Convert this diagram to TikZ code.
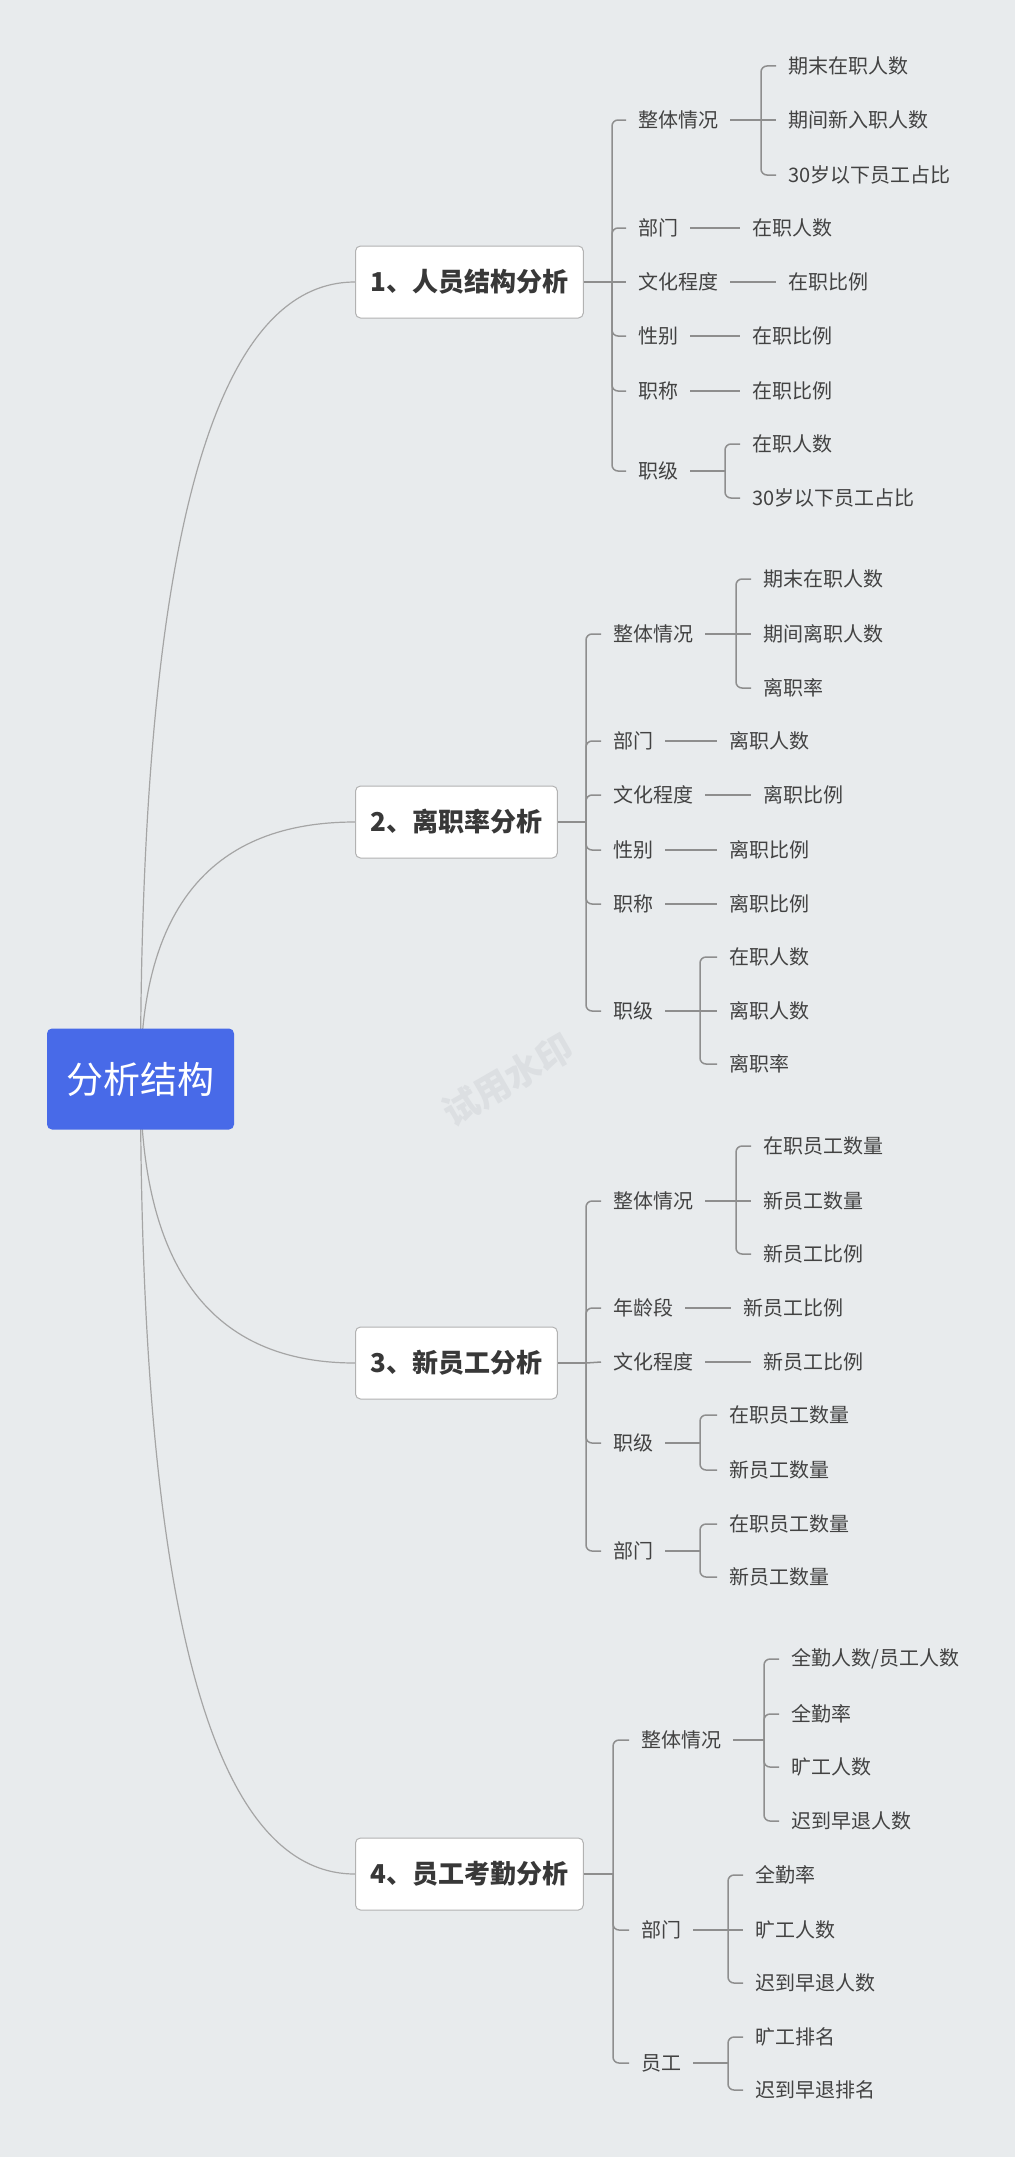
\documentclass[tikz,border=0pt]{standalone}
\usepackage{fontspec}
\setmainfont{Noto Sans CJK SC}
\usepackage{tikz}
\usetikzlibrary{calc,backgrounds}

\definecolor{bgcol}{RGB}{232,235,237}
\definecolor{rootblue}{RGB}{72,106,232}
\definecolor{boxline}{RGB}{178,178,178}
\definecolor{linecol}{RGB}{142,142,142}
\definecolor{curvecol}{RGB}{165,165,165}
\definecolor{txtcol}{RGB}{66,66,66}
\definecolor{wmcol}{RGB}{220,223,226}

\begin{document}
\begin{tikzpicture}[x=1pt,y=-1pt]

  %Styles for picture
  \tikzset
  {
  root/.style={rectangle, rounded corners=5pt, fill=rootblue, text=white, minimum width=187pt, minimum height=101pt, inner sep=0pt, font=\fontsize{37}{44}\selectfont},
  topic/.style={rectangle, rounded corners=5pt, draw=boxline, line width=1pt, fill=white, text=txtcol!85!black, anchor=west, minimum height=72pt, inner xsep=15pt, font=\fontsize{26}{31}\selectfont\bfseries},
  item/.style={anchor=west, inner xsep=12pt, inner ysep=2pt, text=txtcol, font=\fontsize{20}{24}\selectfont},
  branch/.style={draw=linecol, line width=1.5pt, rounded corners=6pt},
  curve/.style={draw=curvecol, line width=1.2pt},
  watermark/.style={text=wmcol, rotate=30, font=\fontsize{36}{43}\selectfont\bfseries},
  }

  \useasboundingbox (0,0) rectangle (1015,2157);

  % Root
  \node[root] (root) at (140.5,1079) {分析结构};
  \node[watermark] (wm) at (508,1080) {试用水印};

  % Section 1
  \node[topic] (t1) at (355,282) {1、人员结构分析};
  \coordinate (j1) at (612,282);
  \node[item] (t1a) at (626,120) {整体情况};
  \node[item] (t1b) at (626,228) {部门};
  \node[item] (t1c) at (626,282) {文化程度};
  \node[item] (t1d) at (626,336) {性别};
  \node[item] (t1e) at (626,391) {职称};
  \node[item] (t1f) at (626,471) {职级};
  \coordinate (j1a) at (761,120);
  \node[item] (t1a1) at (776,66) {期末在职人数};
  \node[item] (t1a2) at (776,120) {期间新入职人数};
  \node[item] (t1a3) at (776,175) {30岁以下员工占比};
  \node[item] (t1b1) at (740,228) {在职人数};
  \node[item] (t1c1) at (776,282) {在职比例};
  \node[item] (t1d1) at (740,336) {在职比例};
  \node[item] (t1e1) at (740,391) {在职比例};
  \coordinate (j1f) at (725,471);
  \node[item] (t1f1) at (740,444) {在职人数};
  \node[item] (t1f2) at (740,498) {30岁以下员工占比};

  % Section 2
  \node[topic] (t2) at (355,822) {2、离职率分析};
  \coordinate (j2) at (586,822);
  \node[item] (t2a) at (601,634) {整体情况};
  \node[item] (t2b) at (601,741) {部门};
  \node[item] (t2c) at (601,795) {文化程度};
  \node[item] (t2d) at (601,850) {性别};
  \node[item] (t2e) at (601,904) {职称};
  \node[item] (t2f) at (601,1011) {职级};
  \coordinate (j2a) at (736,634);
  \node[item] (t2a1) at (751,579) {期末在职人数};
  \node[item] (t2a2) at (751,634) {期间离职人数};
  \node[item] (t2a3) at (751,688) {离职率};
  \node[item] (t2b1) at (717,741) {离职人数};
  \node[item] (t2c1) at (751,795) {离职比例};
  \node[item] (t2d1) at (717,850) {离职比例};
  \node[item] (t2e1) at (717,904) {离职比例};
  \coordinate (j2f) at (700,1011);
  \node[item] (t2f1) at (717,957) {在职人数};
  \node[item] (t2f2) at (717,1011) {离职人数};
  \node[item] (t2f3) at (717,1064) {离职率};

  % Section 3
  \node[topic] (t3) at (355,1363) {3、新员工分析};
  \coordinate (j3) at (586,1363);
  \node[item] (t3a) at (601,1201) {整体情况};
  \node[item] (t3b) at (601,1308) {年龄段};
  \node[item] (t3c) at (601,1362) {文化程度};
  \node[item] (t3d) at (601,1443) {职级};
  \node[item] (t3e) at (601,1551) {部门};
  \coordinate (j3a) at (736,1201);
  \node[item] (t3a1) at (751,1146) {在职员工数量};
  \node[item] (t3a2) at (751,1201) {新员工数量};
  \node[item] (t3a3) at (751,1254) {新员工比例};
  \node[item] (t3b1) at (731,1308) {新员工比例};
  \node[item] (t3c1) at (751,1362) {新员工比例};
  \coordinate (j3d) at (700,1443);
  \node[item] (t3d1) at (717,1415) {在职员工数量};
  \node[item] (t3d2) at (717,1470) {新员工数量};
  \coordinate (j3e) at (700,1551);
  \node[item] (t3e1) at (717,1524) {在职员工数量};
  \node[item] (t3e2) at (717,1577) {新员工数量};

  % Section 4
  \node[topic] (t4) at (355,1874) {4、员工考勤分析};
  \coordinate (j4) at (613,1874);
  \node[item] (t4a) at (629,1740) {整体情况};
  \node[item] (t4b) at (629,1930) {部门};
  \node[item] (t4c) at (629,2063) {员工};
  \coordinate (j4a) at (764,1740);
  \node[item] (t4a1) at (779,1659) {全勤人数/员工人数};
  \node[item] (t4a2) at (779,1714) {全勤率};
  \node[item] (t4a3) at (779,1767) {旷工人数};
  \node[item] (t4a4) at (779,1821) {迟到早退人数};
  \coordinate (j4b) at (728,1930);
  \node[item] (t4b1) at (743,1875) {全勤率};
  \node[item] (t4b2) at (743,1930) {旷工人数};
  \node[item] (t4b3) at (743,1983) {迟到早退人数};
  \coordinate (j4c) at (728,2063);
  \node[item] (t4c1) at (743,2037) {旷工排名};
  \node[item] (t4c2) at (743,2090) {迟到早退排名};

  % Curves from root
  \begin{pgfonlayer}{background}
  \fill[bgcol] (0,0) rectangle (1015,2157);
  \foreach \t in {t1,t2,t3,t4}
    \draw[curve] (root.center) .. controls ($(root.center)!0.667!(root.center |- \t.west)$) and ($(\t.west)!0.667!(root.center |- \t.west)$) .. (\t.west);
  \end{pgfonlayer}

  % Edges, section 1
  \draw[branch] (t1.east) -- (j1);
  \draw[branch] (j1) |- (t1a.west);
  \draw[branch] (j1) |- (t1b.west);
  \draw[branch] (j1) -- (t1c.west);
  \draw[branch] (j1) |- (t1d.west);
  \draw[branch] (j1) |- (t1e.west);
  \draw[branch] (j1) |- (t1f.west);
  \draw[branch] (t1a.east) -- (j1a);
  \draw[branch] (j1a) |- (t1a1.west);
  \draw[branch] (j1a) -- (t1a2.west);
  \draw[branch] (j1a) |- (t1a3.west);
  \draw[branch] (t1b.east) -- (t1b1.west);
  \draw[branch] (t1c.east) -- (t1c1.west);
  \draw[branch] (t1d.east) -- (t1d1.west);
  \draw[branch] (t1e.east) -- (t1e1.west);
  \draw[branch] (t1f.east) -- (j1f);
  \draw[branch] (j1f) |- (t1f1.west);
  \draw[branch] (j1f) |- (t1f2.west);

  % Edges, section 2
  \draw[branch] (t2.east) -- (j2);
  \draw[branch] (j2) |- (t2a.west);
  \draw[branch] (j2) |- (t2b.west);
  \draw[branch] (j2) |- (t2c.west);
  \draw[branch] (j2) |- (t2d.west);
  \draw[branch] (j2) |- (t2e.west);
  \draw[branch] (j2) |- (t2f.west);
  \draw[branch] (t2a.east) -- (j2a);
  \draw[branch] (j2a) |- (t2a1.west);
  \draw[branch] (j2a) -- (t2a2.west);
  \draw[branch] (j2a) |- (t2a3.west);
  \draw[branch] (t2b.east) -- (t2b1.west);
  \draw[branch] (t2c.east) -- (t2c1.west);
  \draw[branch] (t2d.east) -- (t2d1.west);
  \draw[branch] (t2e.east) -- (t2e1.west);
  \draw[branch] (t2f.east) -- (j2f);
  \draw[branch] (j2f) |- (t2f1.west);
  \draw[branch] (j2f) -- (t2f2.west);
  \draw[branch] (j2f) |- (t2f3.west);

  % Edges, section 3
  \draw[branch] (t3.east) -- (j3);
  \draw[branch] (j3) |- (t3a.west);
  \draw[branch] (j3) |- (t3b.west);
  \draw[branch] (j3) -- (t3c.west);
  \draw[branch] (j3) |- (t3d.west);
  \draw[branch] (j3) |- (t3e.west);
  \draw[branch] (t3a.east) -- (j3a);
  \draw[branch] (j3a) |- (t3a1.west);
  \draw[branch] (j3a) -- (t3a2.west);
  \draw[branch] (j3a) |- (t3a3.west);
  \draw[branch] (t3b.east) -- (t3b1.west);
  \draw[branch] (t3c.east) -- (t3c1.west);
  \draw[branch] (t3d.east) -- (j3d);
  \draw[branch] (j3d) |- (t3d1.west);
  \draw[branch] (j3d) |- (t3d2.west);
  \draw[branch] (t3e.east) -- (j3e);
  \draw[branch] (j3e) |- (t3e1.west);
  \draw[branch] (j3e) |- (t3e2.west);

  % Edges, section 4
  \draw[branch] (t4.east) -- (j4);
  \draw[branch] (j4) |- (t4a.west);
  \draw[branch] (j4) |- (t4b.west);
  \draw[branch] (j4) |- (t4c.west);
  \draw[branch] (t4a.east) -- (j4a);
  \draw[branch] (j4a) |- (t4a1.west);
  \draw[branch] (j4a) |- (t4a2.west);
  \draw[branch] (j4a) |- (t4a3.west);
  \draw[branch] (j4a) |- (t4a4.west);
  \draw[branch] (t4b.east) -- (j4b);
  \draw[branch] (j4b) |- (t4b1.west);
  \draw[branch] (j4b) -- (t4b2.west);
  \draw[branch] (j4b) |- (t4b3.west);
  \draw[branch] (t4c.east) -- (j4c);
  \draw[branch] (j4c) |- (t4c1.west);
  \draw[branch] (j4c) |- (t4c2.west);

\end{tikzpicture}
\end{document}
